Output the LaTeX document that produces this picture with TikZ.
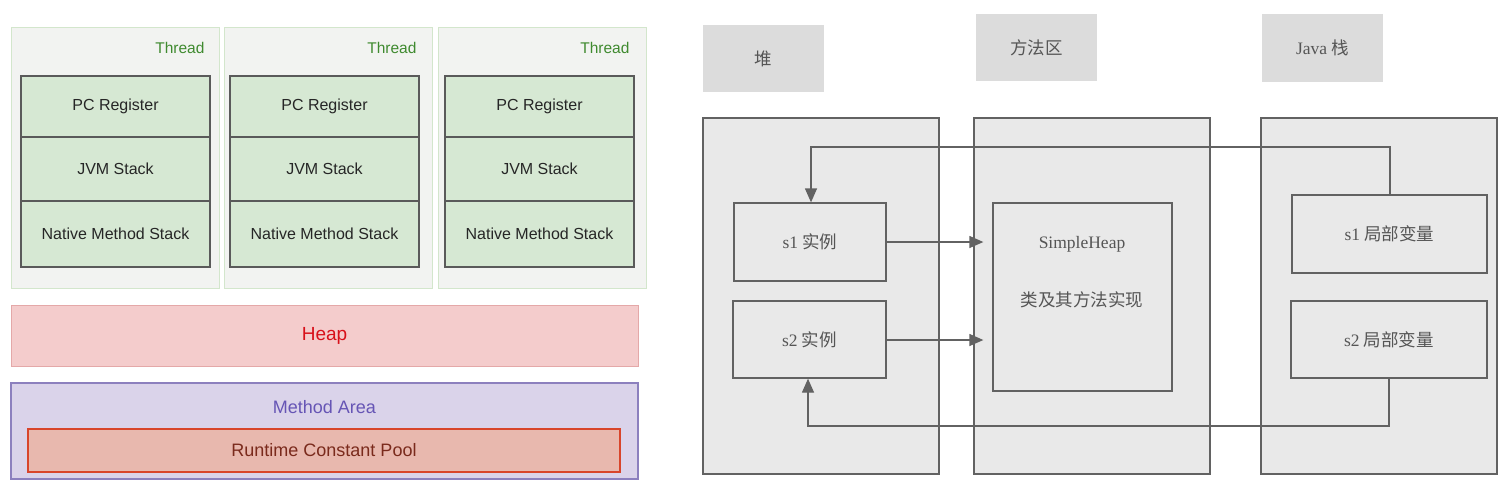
\documentclass[tikz,border=0pt]{standalone}
\usepackage{fontspec}
\setmainfont{Liberation Serif}
\newfontfamily\arialf{Liberation Sans}
\newfontfamily\cjk{Noto Sans CJK SC}
\usetikzlibrary{fit,arrows.meta}
\definecolor{thrbg}{HTML}{F2F3F1}
\definecolor{thrbd}{HTML}{D3E6CC}
\definecolor{thrtx}{HTML}{3F8A2F}
\definecolor{stkbg}{HTML}{D6E8D3}
\definecolor{stkbd}{HTML}{5A5A5A}
\definecolor{heapbg}{HTML}{F4CCCC}
\definecolor{heapbd}{HTML}{E4A8A8}
\definecolor{heaptx}{HTML}{D8101A}
\definecolor{mabg}{HTML}{DAD3EA}
\definecolor{mabd}{HTML}{8C80BE}
\definecolor{matx}{HTML}{6655B5}
\definecolor{rcpbg}{HTML}{E8B8AE}
\definecolor{rcpbd}{HTML}{D8452B}
\definecolor{rcptx}{HTML}{7A2A1C}
\definecolor{scanbg}{HTML}{E9E9E9}
\definecolor{scanbd}{HTML}{626262}
\definecolor{scanlab}{HTML}{DCDCDC}
\definecolor{scantx}{HTML}{555555}
\tikzset{
  thread/.style={fill=thrbg,draw=thrbd,line width=1pt,inner sep=0pt},
  stk/.style={fill=stkbg,draw=stkbd,line width=1.4pt,inner sep=0pt},
  stktext/.style={text=black!85,font=\arialf\fontsize{16}{19}\selectfont},
  thrlab/.style={anchor=east,text=thrtx,font=\arialf\fontsize{15.5}{18}\selectfont},
  heapbox/.style={fill=heapbg,draw=heapbd,line width=1pt,inner sep=0pt},
  mabox/.style={fill=mabg,draw=mabd,line width=1.2pt,inner sep=0pt},
  rcpbox/.style={fill=rcpbg,draw=rcpbd,line width=1.4pt,inner sep=0pt},
  region/.style={fill=scanbg,draw=scanbd,line width=1.3pt,inner sep=0pt},
  labbox/.style={fill=scanlab,draw=none,inner sep=0pt},
  scantext/.style={text=scantx,font=\fontsize{17.5}{21}\selectfont},
  inbox/.style={fill=scanbg,draw=scanbd,line width=1.3pt,inner sep=0pt},
  conn/.style={draw=scanbd,line width=1.3pt,-{Triangle[length=14pt,width=12pt]}},
}
\begin{document}
\begin{tikzpicture}[x=1pt,y=-1pt]
\useasboundingbox[fill=white] (0,0) rectangle (1512,493);
% ---------- left diagram ----------
\foreach \ox/\ix/\lx [count=\i] in {11/21/208, 224/230/420, 438/445/633}{
  \node[thread,fit={(\ox,27)(\ox+208,288)}] (t\i) {};
  \node[thrlab] (tl\i) at (\lx,48) {Thread};
  \node[stk,fit={(\ix,76)(\ix+189,137)}] (pc\i) {};
  \node[stktext] (pct\i) at (pc\i.center) {PC Register};
  \node[stk,fit={(\ix,137)(\ix+189,201)}] (jvm\i) {};
  \node[stktext] (jvmt\i) at (jvm\i.center) {JVM Stack};
  \node[stk,fit={(\ix,201)(\ix+189,267)}] (nms\i) {};
  \node[stktext] (nmst\i) at (nms\i.center) {Native Method Stack};
}
\node[heapbox,fit={(11,305)(638,366)}] (heap) {};
\node[text=heaptx,font=\arialf\fontsize{19}{22}\selectfont] (heapt) at (heap.center) {Heap};
\node[mabox,fit={(11,383)(638,479)}] (ma) {};
\node[text=matx,font=\arialf\fontsize{18}{22}\selectfont] (mat) at (324.5,407) {Method Area};
\node[rcpbox,fit={(28,429)(620,472)}] (rcp) {};
\node[text=rcptx,font=\arialf\fontsize{18}{22}\selectfont] (rcpt) at (rcp.center) {Runtime Constant Pool};
% ---------- right diagram ----------
\node[labbox,fit={(703,25)(824,92)}] (lheap) {};
\node[scantext] (lheapt) at (lheap.center) {\cjk 堆};
\node[labbox,fit={(976,14)(1097,81)}] (lma) {};
\node[scantext] (lmat) at (lma.center) {\cjk 方法区};
\node[labbox,fit={(1262,14)(1383,82)}] (ljs) {};
\node[scantext] (ljst) at (ljs.center) {Java \cjk 栈};
\node[region,fit={(703,118)(939,474)}] (rheap) {};
\node[region,fit={(974,118)(1210,474)}] (rma) {};
\node[region,fit={(1261,118)(1497,474)}] (rjs) {};
\node[inbox,fit={(734,203)(886,281)}] (s1i) {};
\node[scantext] (s1it) at (s1i.center) {s1 {\cjk 实例}};
\node[inbox,fit={(733,301)(886,378)}] (s2i) {};
\node[scantext] (s2it) at (s2i.center) {s2 {\cjk 实例}};
\node[inbox,fit={(993,203)(1172,391)}] (sh) {};
\node[scantext] (sht1) at (1082,244) {SimpleHeap};
\node[scantext] (sht2) at (1082,300) {\cjk 类及其方法实现};
\node[inbox,fit={(1292,195)(1487,273)}] (s1v) {};
\node[scantext] (s1vt) at (s1v.center) {s1 {\cjk 局部变量}};
\node[inbox,fit={(1291,301)(1487,378)}] (s2v) {};
\node[scantext] (s2vt) at (s2v.center) {s2 {\cjk 局部变量}};
% connectors
\coordinate (c1) at (1390,147);
\coordinate (c2) at (811,147);
\coordinate (c3) at (1389,426);
\coordinate (c4) at (808,426);
\draw[conn] (s1v.north -| c1) -- (c1) -- (c2) -- (s1i.north -| c2);
\draw[conn] (s2v.south -| c3) -- (c3) -- (c4) -- (s2i.south -| c4);
\draw[conn,shorten >=9pt] (s1i.east |- 0,242) -- (sh.west |- 0,242);
\draw[conn,shorten >=9pt] (s2i.east |- 0,340) -- (sh.west |- 0,340);
\end{tikzpicture}
\end{document}
